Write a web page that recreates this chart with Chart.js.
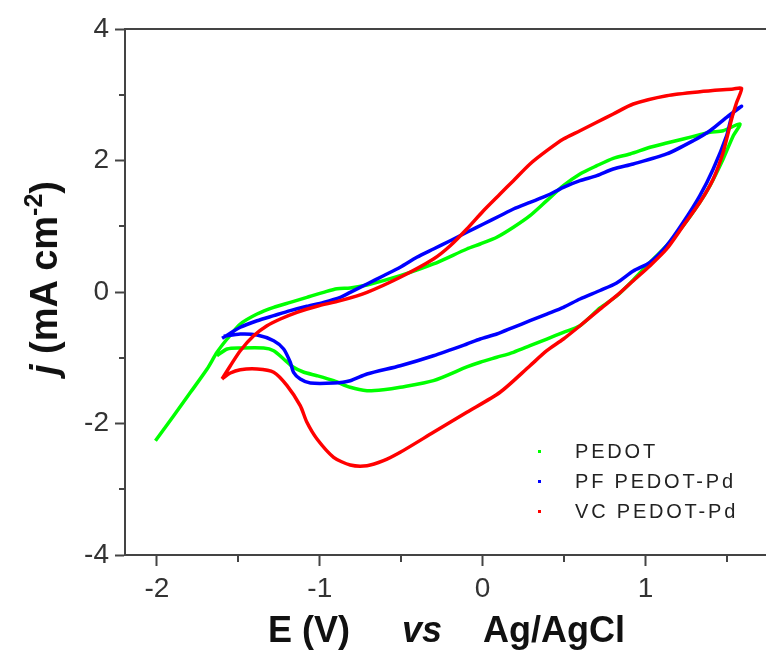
<!DOCTYPE html>
<html lang="en">
<head>
<meta charset="utf-8">
<script src="https://cdn.jsdelivr.net/npm/chart.js"></script>
<style>
  body { margin: 0; background: #fff; }
  #wrap { position: relative; width: 766px; height: 651px; overflow: hidden; font-family: "Liberation Sans", Arial, sans-serif; color: #111; }
  #cv { position: absolute; left: 0; top: 0; }
  .xt { position: absolute; top: 612px; font-size: 36px; line-height: 36px; font-weight: bold; white-space: nowrap; }
  #ytitle { position: absolute; left: 44px; top: 278px; font-size: 38px; line-height: 38px; font-weight: bold; white-space: nowrap;
            transform: translate(-50%, -50%) rotate(-90deg); }
  #ytitle sup { font-size: 25px; line-height: 0; vertical-align: 15px; }
  .lg { position: absolute; left: 575px; font-size: 20px; line-height: 20px; letter-spacing: 2.8px; white-space: nowrap; color: #222; }
  .mk { position: absolute; left: 538px; width: 3px; height: 3px; }
</style>
</head>
<body>
<div id="wrap">
  <canvas id="cv" width="766" height="651"></canvas>
  <span class="xt" style="left:268px">E (V)</span>
  <span class="xt" style="left:402px"><i>vs</i></span>
  <span class="xt" style="left:483px">Ag/AgCl</span>
  <div id="ytitle"><i>j</i> (mA cm<sup>-2</sup>)</div>
  <div id="legend"></div>
</div>
<script>
// tick labels
const xTicks = [-2, -1, 0, 1];
const yTicks = [-4, -2, 0, 2, 4];

// legend / series names and colours
const seriesNames = ['PEDOT', 'PF PEDOT-Pd', 'VC PEDOT-Pd'];
const seriesColors = ['#00ff00', '#0000ff', '#ff0000'];

// PEDOT (green): forward scan from -2 V then back to about -1.6 V
const pedotE = [-2.009, -1.897, -1.794, -1.692, -1.631, -1.569, -1.488, -1.385, -1.283, -1.181, -1.079, -0.977, -0.894, -0.813, -0.710, -0.506, -0.302, -0.097, -0.015, 0.087, 0.189, 0.291, 0.394, 0.496, 0.598, 0.701, 0.802, 0.905, 1.028, 1.130, 1.232, 1.334, 1.396, 1.477, 1.580,
                1.539, 1.477, 1.396, 1.334, 1.232, 1.130, 1.028, 0.925, 0.823, 0.721, 0.598, 0.496, 0.394, 0.291, 0.189, 0.087, -0.015, -0.097, -0.302, -0.506, -0.609, -0.710, -0.813, -0.915, -1.017, -1.101, -1.161, -1.222, -1.283, -1.345, -1.488, -1.569, -1.631];
const pedotJ = [-2.262, -1.882, -1.526, -1.171, -0.917, -0.715, -0.487, -0.335, -0.233, -0.157, -0.081, -0.005, 0.050, 0.062, 0.106, 0.248, 0.426, 0.654, 0.730, 0.832, 0.984, 1.160, 1.389, 1.617, 1.795, 1.921, 2.033, 2.099, 2.201, 2.266, 2.327, 2.392, 2.429, 2.453, 2.555,
                2.377, 2.023, 1.617, 1.364, 1.008, 0.704, 0.452, 0.183, -0.061, -0.243, -0.513, -0.613, -0.715, -0.817, -0.917, -0.993, -1.069, -1.140, -1.349, -1.449, -1.486, -1.501, -1.449, -1.349, -1.273, -1.217, -1.145, -1.019, -0.893, -0.852, -0.852, -0.867, -0.969];

// PF PEDOT-Pd (blue)
const pfE = [-1.600, -1.488, -1.385, -1.283, -1.181, -1.079, -0.977, -0.874, -0.813, -0.710, -0.609, -0.506, -0.404, -0.302, -0.199, -0.097, 0.005, 0.107, 0.189, 0.291, 0.394, 0.496, 0.598, 0.701, 0.802, 0.925, 1.130, 1.293, 1.396, 1.498, 1.590,
             1.539, 1.498, 1.416, 1.334, 1.232, 1.130, 1.028, 0.925, 0.823, 0.721, 0.598, 0.496, 0.394, 0.291, 0.189, 0.087, -0.015, -0.097, -0.302, -0.506, -0.710, -0.813, -0.915, -1.058, -1.120, -1.161, -1.181, -1.222, -1.283, -1.385, -1.488, -1.590];
const pfJ = [-0.704, -0.537, -0.437, -0.360, -0.284, -0.217, -0.157, -0.081, -0.005, 0.122, 0.248, 0.376, 0.528, 0.654, 0.780, 0.908, 1.034, 1.160, 1.262, 1.364, 1.465, 1.592, 1.693, 1.769, 1.871, 1.947, 2.099, 2.301, 2.453, 2.657, 2.824,
             2.733, 2.377, 1.871, 1.465, 1.060, 0.704, 0.452, 0.319, 0.137, 0.023, -0.106, -0.233, -0.335, -0.437, -0.537, -0.639, -0.715, -0.791, -0.969, -1.121, -1.247, -1.349, -1.384, -1.384, -1.323, -1.221, -1.069, -0.867, -0.741, -0.654, -0.639, -0.674];

// VC PEDOT-Pd (red)
const vcE = [-1.600, -1.549, -1.488, -1.406, -1.324, -1.242, -1.140, -1.017, -0.874, -0.710, -0.506, -0.302, -0.199, -0.097, 0.005, 0.107, 0.189, 0.291, 0.394, 0.496, 0.598, 0.701, 0.802, 0.925, 1.130, 1.334, 1.539, 1.590,
             1.560, 1.529, 1.477, 1.416, 1.334, 1.232, 1.130, 1.028, 0.925, 0.823, 0.721, 0.598, 0.496, 0.394, 0.291, 0.107, -0.097, -0.302, -0.506, -0.609, -0.710, -0.813, -0.915, -1.017, -1.079, -1.120, -1.201, -1.283, -1.385, -1.488, -1.549, -1.600];
const vcJ = [-1.323, -1.121, -0.893, -0.665, -0.513, -0.411, -0.309, -0.217, -0.132, -0.005, 0.224, 0.502, 0.704, 0.958, 1.236, 1.490, 1.693, 1.947, 2.149, 2.327, 2.453, 2.581, 2.707, 2.859, 2.986, 3.046, 3.087, 3.098,
             2.885, 2.631, 2.125, 1.719, 1.364, 1.008, 0.654, 0.400, 0.172, -0.056, -0.259, -0.513, -0.715, -0.893, -1.121, -1.525, -1.830, -2.134, -2.438, -2.566, -2.642, -2.631, -2.514, -2.236, -1.982, -1.729, -1.425, -1.221, -1.171, -1.182, -1.232, -1.323];

function pts(xs, ys) {
    let out = [];
    for (let i = 0; i < xs.length; i++) out.push({x: xs[i], y: ys[i]});
    return out;
}
const isWhole = v => Math.abs(v - Math.round(v)) < 1e-6;
const axisColor = '#444';
const tickFont = {family: '"Liberation Sans", Arial, sans-serif', size: 28};

// minor ticks (shorter) and the top frame line
const framePlugin = {
    id: 'frame',
    afterDraw(chart) {
        const c = chart.ctx, a = chart.chartArea;
        const sx = chart.scales.x, sy = chart.scales.y;
        c.save();
        c.strokeStyle = axisColor;
        c.lineWidth = 2;
        c.beginPath();
        c.moveTo(a.left - 1, a.top);
        c.lineTo(chart.width, a.top);
        sx.ticks.forEach(t => {
            if (!isWhole(t.value)) {
                const p = Math.round(sx.getPixelForValue(t.value));
                c.moveTo(p, a.bottom);
                c.lineTo(p, a.bottom + 7);
            }
        });
        sy.ticks.forEach(t => {
            if (!isWhole(t.value / 2)) {
                const p = Math.round(sy.getPixelForValue(t.value));
                c.moveTo(a.left, p);
                c.lineTo(a.left - 6, p);
            }
        });
        c.stroke();
        c.restore();
    }
};

const data = {
    datasets: [
        {label: seriesNames[0], data: pts(pedotE, pedotJ), borderColor: seriesColors[0], order: 3},
        {label: seriesNames[1], data: pts(pfE, pfJ), borderColor: seriesColors[1], order: 2},
        {label: seriesNames[2], data: pts(vcE, vcJ), borderColor: seriesColors[2], order: 1}
    ].map(d => Object.assign(d, {showLine: true, pointRadius: 0, borderWidth: 3.5, tension: 0.25, fill: false}))
};

const config = {
    type: 'scatter',
    data: data,
    options: {
        responsive: false,
        animation: false,
        devicePixelRatio: 1,
        layout: {padding: {top: 29, right: 0, left: 0, bottom: 0}},
        plugins: {legend: {display: false}, tooltip: {enabled: false}},
        scales: {
            x: {
                type: 'linear', min: -2.196, max: 1.74,
                afterFit: s => { s.height = 96; },
                border: {display: true, color: axisColor, width: 2},
                grid: {drawOnChartArea: false, drawTicks: true, tickLength: 11, tickWidth: 2,
                       tickColor: ctx => (ctx.tick && isWhole(ctx.tick.value)) ? axisColor : 'rgba(0,0,0,0)'},
                ticks: {stepSize: 0.5, includeBounds: false, padding: 6, color: '#333', font: tickFont, maxRotation: 0, autoSkip: false,
                        callback: v => xTicks.some(t => Math.abs(t - v) < 1e-6) ? String(Math.round(v)) : ''}
            },
            y: {
                type: 'linear', min: -4, max: 4,
                afterFit: s => { s.width = 125; },
                border: {display: true, color: axisColor, width: 2},
                grid: {drawOnChartArea: false, drawTicks: true, tickLength: 10, tickWidth: 2,
                       tickColor: ctx => (ctx.tick && isWhole(ctx.tick.value / 2)) ? axisColor : 'rgba(0,0,0,0)'},
                ticks: {stepSize: 1, includeBounds: false, padding: 6, color: '#333', font: tickFont, autoSkip: false,
                        callback: v => yTicks.some(t => Math.abs(t - v) < 1e-6) ? String(Math.round(v)) : ''}
            }
        }
    },
    plugins: [framePlugin]
};

const myChart = new Chart(document.getElementById('cv'), config);

// legend inside the plot, lower right
const legend = document.getElementById('legend');
const rowY = [452, 482, 512];
for (let i = 0; i < seriesNames.length; i++) {
    const mk = document.createElement('div');
    mk.className = 'mk';
    mk.style.top = (rowY[i] - 2) + 'px';
    mk.style.background = seriesColors[i];
    legend.appendChild(mk);
    const t = document.createElement('div');
    t.className = 'lg';
    t.style.top = (rowY[i] - 11) + 'px';
    t.textContent = seriesNames[i];
    legend.appendChild(t);
}
</script>
</body>
</html>
